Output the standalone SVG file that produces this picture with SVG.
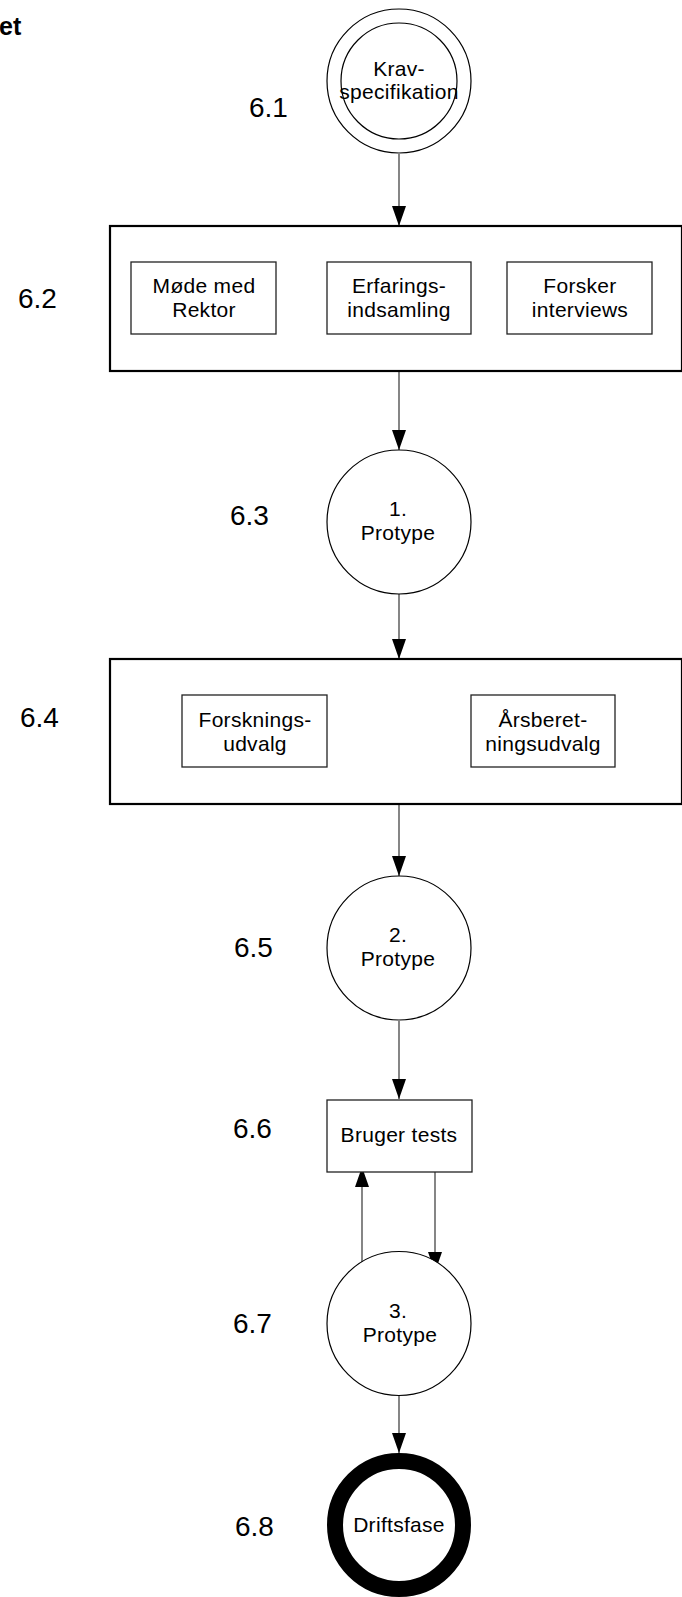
<svg xmlns="http://www.w3.org/2000/svg" width="682" height="1597" viewBox="0 0 682 1597">
<defs>
<marker id="arr" viewBox="0 0 20 14" refX="20" refY="7" markerWidth="20" markerHeight="14" markerUnits="userSpaceOnUse" orient="auto">
<path d="M0,0 L20,7 L0,14 Z" fill="#000"/>
</marker>
<style>
text{font-family:"Liberation Sans",Arial,sans-serif;fill:#000}
.t{font-size:21px;text-anchor:middle;letter-spacing:0.3px}
.lbl{font-size:28px}
.ttl{font-size:25px;font-weight:bold}
.c{fill:#fff;stroke:#000;stroke-width:1.2}
.big{fill:#fff;stroke:#000;stroke-width:2.2}
.in{fill:#fff;stroke:#222;stroke-width:1.3}
.e{stroke:#444;stroke-width:1.3;fill:none;marker-end:url(#arr)}
</style>
</defs>
<rect width="682" height="1597" fill="#fff"/>
<text class="ttl" x="-1" y="35">et</text>

<g id="connectors">
<line class="e" x1="399" y1="154" x2="399" y2="226"/>
<line class="e" x1="399" y1="371" x2="399" y2="450"/>
<line class="e" x1="399" y1="594" x2="399" y2="659"/>
<line class="e" x1="399" y1="804" x2="399" y2="876"/>
<line class="e" x1="399" y1="1021" x2="399" y2="1099"/>
<line class="e" x1="435" y1="1165" x2="435" y2="1272"/>
<line class="e" x1="362" y1="1273" x2="362" y2="1167"/>
<line class="e" x1="399" y1="1396" x2="399" y2="1453"/>
</g>

<g id="n61">
<circle class="c" cx="399" cy="81" r="72"/>
<circle class="c" cx="399" cy="81" r="58"/>
<text class="t" x="399" y="76">Krav-</text>
<text class="t" x="399" y="99">specifikation</text>
<text class="lbl" x="249" y="117">6.1</text>
</g>

<g id="n62">
<rect class="big" x="110" y="226" width="572" height="145"/>
<text class="lbl" x="18" y="308">6.2</text>
<g id="n62a">
<rect class="in" x="131" y="262" width="145" height="72"/>
<text class="t" x="204" y="293">Møde med</text>
<text class="t" x="204" y="317">Rektor</text>
</g>
<g id="n62b">
<rect class="in" x="327" y="262" width="144" height="72"/>
<text class="t" x="399" y="293">Erfarings-</text>
<text class="t" x="399" y="317">indsamling</text>
</g>
<g id="n62c">
<rect class="in" x="507" y="262" width="145" height="72"/>
<text class="t" x="580" y="293">Forsker</text>
<text class="t" x="580" y="317">interviews</text>
</g>
</g>

<g id="n63">
<circle class="c" cx="399" cy="522" r="72"/>
<text class="t" x="398" y="516">1.</text>
<text class="t" x="398" y="540">Protype</text>
<text class="lbl" x="230" y="525">6.3</text>
</g>

<g id="n64">
<rect class="big" x="110" y="659" width="572" height="145"/>
<text class="lbl" x="20" y="727">6.4</text>
<g id="n64a">
<rect class="in" x="182" y="695" width="145" height="72"/>
<text class="t" x="255" y="727">Forsknings-</text>
<text class="t" x="255" y="751">udvalg</text>
</g>
<g id="n64b">
<rect class="in" x="471" y="695" width="144" height="72"/>
<text class="t" x="543" y="727">Årsberet-</text>
<text class="t" x="543" y="751">ningsudvalg</text>
</g>
</g>

<g id="n65">
<circle class="c" cx="399" cy="948" r="72"/>
<text class="t" x="398" y="942">2.</text>
<text class="t" x="398" y="966">Protype</text>
<text class="lbl" x="234" y="957">6.5</text>
</g>

<g id="n66">
<rect class="in" x="327" y="1100" width="145" height="72"/>
<text class="t" x="399" y="1142">Bruger tests</text>
<text class="lbl" x="233" y="1138">6.6</text>
</g>

<g id="n67">
<circle class="c" cx="399" cy="1323.5" r="72"/>
<text class="t" x="398" y="1318">3.</text>
<text class="t" x="400" y="1342">Protype</text>
<text class="lbl" x="233" y="1333">6.7</text>
</g>

<g id="n68">
<circle cx="399" cy="1525" r="64" fill="#fff" stroke="#000" stroke-width="16"/>
<text class="t" x="399" y="1532">Driftsfase</text>
<text class="lbl" x="235" y="1536">6.8</text>
</g>
</svg>
